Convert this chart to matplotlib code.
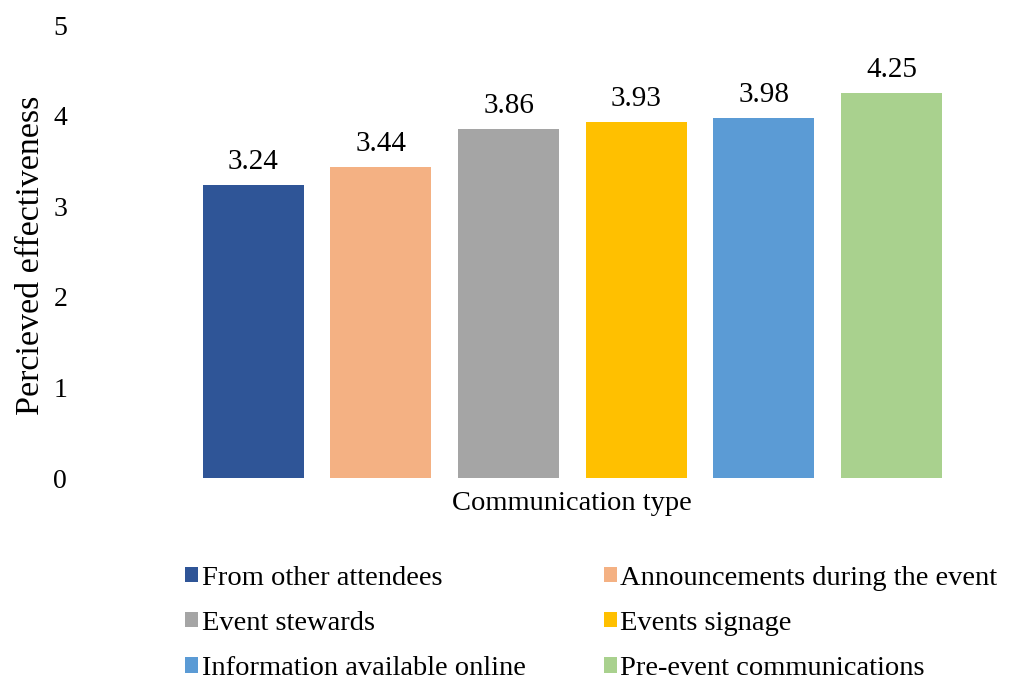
import matplotlib

matplotlib.use("Agg")
import matplotlib.pyplot as plt  # noqa: E402
from matplotlib.patches import Patch  # noqa: E402

categories = [
    "From other attendees",
    "Announcements during the event",
    "Event stewards",
    "Events signage",
    "Information available online",
    "Pre-event communications",
]
values = [3.24, 3.44, 3.86, 3.93, 3.98, 4.25]
colors = ["#2F5597", "#F4B183", "#A5A5A5", "#FFC000", "#5B9BD5", "#A9D18E"]
yticks = [0, 1, 2, 3, 4, 5]

plt.rcParams["font.family"] = ["Liberation Serif", "DejaVu Serif"]

fig = plt.figure(figsize=(10.13, 6.84), dpi=100)
ax = fig.add_axes([0.187, 0.301, 0.756, 0.662])

x = list(range(len(categories)))
ax.bar(x, values, width=0.79, color=colors)
for xi, v in zip(x, values):
    ax.text(xi, v + 0.11, f"{v:.2f}", ha="center", va="bottom", fontsize=21)

ax.set_xlim(-0.5, len(categories) - 0.5)
ax.set_ylim(0, 5)
ax.set_yticks(yticks)
ax.set_xticks([])
ax.tick_params(axis="y", length=0, pad=88, labelsize=20)
for s in ax.spines.values():
    s.set_visible(False)

ax.set_xlabel("Communication type", fontsize=20.5, labelpad=9)
fig.text(0.03, 0.627, "Percieved effectiveness", rotation=90,
         ha="center", va="center", fontsize=24.5)

# legend fills column by column, so reorder to read row by row
order = [0, 2, 4, 1, 3, 5]
handles = [Patch(facecolor=colors[i], label=categories[i]) for i in order]
fig.legend(handles=handles, ncol=2, loc="upper left",
           bbox_to_anchor=(0.183, 0.173), frameon=False, fontsize=20.5,
           borderpad=0, borderaxespad=0,
           handlelength=0.45, handleheight=0.45, handletextpad=0.12,
           columnspacing=2.75, labelspacing=0.71)

fig.savefig("out.png", dpi=100)
